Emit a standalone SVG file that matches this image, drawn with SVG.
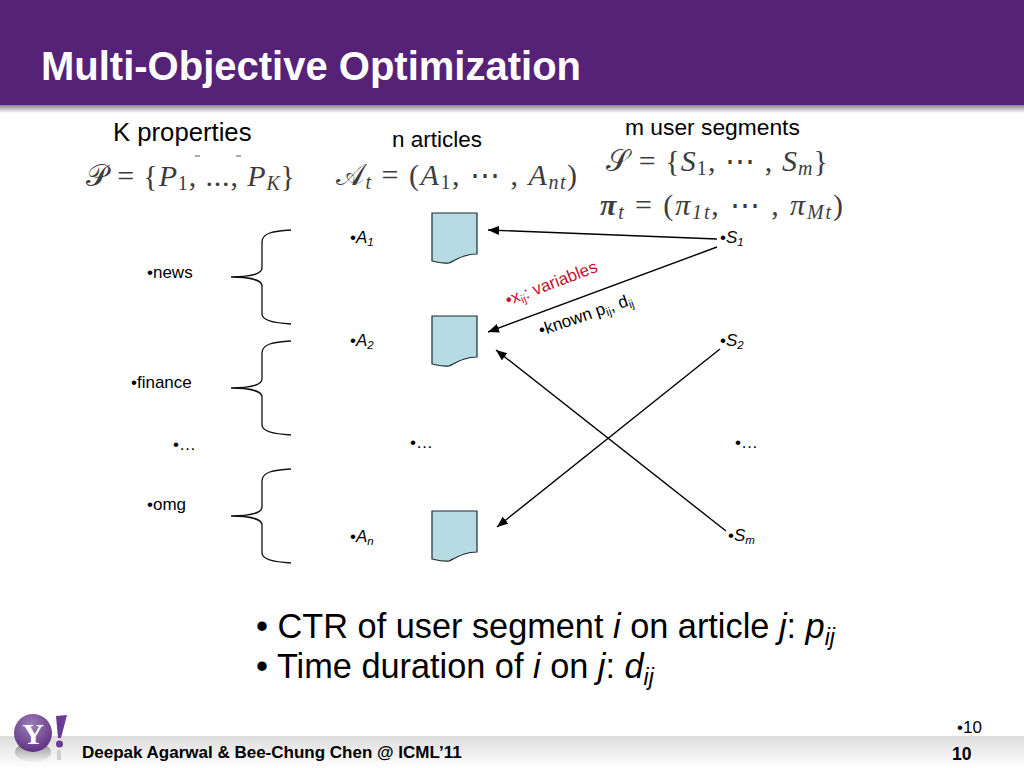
<svg xmlns="http://www.w3.org/2000/svg" width="1024" height="768" viewBox="0 0 1024 768">
<style>
text{font-family:"Liberation Sans",Arial,sans-serif;fill:#000}
.s{font-size:17px}
.sub{font-size:11.500px;font-style:italic}
.b{font-size:34.300px}
.m{font-family:"Liberation Serif","DejaVu Serif",serif;font-size:30px;fill:#3c3c3c}
.mi{font-size:20px}
.brace{fill:none;stroke:#111;stroke-width:1.3}
.doc{fill:#b7dbe2;stroke:#1c2c30;stroke-width:1.2}
.arr{stroke:#000;stroke-width:1.4;fill:none;marker-end:url(#ah)}
</style>
<defs>
<marker id="ah" markerUnits="userSpaceOnUse" markerWidth="12" markerHeight="10" refX="11" refY="4.500" orient="auto"><path d="M0 0L11 4.500L0 9Z" fill="#000"/></marker>
<linearGradient id="band" x1="0" y1="0" x2="0" y2="1"><stop offset="0" stop-color="#dcdcdc"/><stop offset="1" stop-color="#fff"/></linearGradient>
<linearGradient id="shade" x1="0" y1="0" x2="0" y2="1"><stop offset="0" stop-color="#777"/><stop offset="1" stop-color="#fff"/></linearGradient>
<linearGradient id="refl" x1="0" y1="0" x2="0" y2="1"><stop offset="0" stop-color="#8a8a8a"/><stop offset="1" stop-color="#f2f2f2"/></linearGradient>
<radialGradient id="ball" cx=".45" cy=".3" r=".75"><stop offset="0" stop-color="#9d7fb8"/><stop offset="1" stop-color="#5b2c80"/></radialGradient>
<path id="d" class="doc" d="M0 0H45V41C34 41 27 45 17 50C10 51 5 49 0 48Z"/>
<path id="br" class="brace" d="M60 0C42 1 31 3 31 12V38C31 44 18 47 0 47C18 47 31 50 31 56V84C31 90 42 93 60 94"/>
</defs>
<rect width="1024" height="768" fill="#fff"/>
<g id="header">
<rect y="104" width="1024" height="9" fill="url(#shade)"/>
<rect width="1024" height="105" fill="#552277"/>
<text x="41" y="80" font-size="40" font-weight="700" style="fill:#fff">Multi-Objective Optimization</text>
</g>
<g id="footer">
<rect y="736" width="1024" height="32" fill="url(#band)"/>
<g id="logo">
<ellipse cx="33" cy="752" rx="18" ry="10" fill="url(#refl)"/>
<rect x="57" y="750" width="4" height="10" fill="#d0d0d0"/>
<circle cx="33" cy="733" r="19" fill="url(#ball)"/>
<text x="33" y="744" font-size="30" font-weight="700" text-anchor="middle" style="font-family:'Liberation Serif',serif;fill:#fff">Y</text>
<path d="M56 716L67 715L61 738H58Z" fill="#6b3a92"/>
<circle cx="59.500" cy="744" r="3.500" fill="#6b3a92"/>
</g>
<text x="82" y="758" font-size="17" font-weight="700">Deepak Agarwal &amp; Bee-Chung Chen @ ICML’11</text>
<text x="957" y="733" font-size="17">•10</text>
<text x="952" y="760" font-size="17.500" font-weight="700">10</text>
</g>
<g id="headings">
<text x="113" y="141" font-size="25.700">K properties</text>
<text x="392" y="147" font-size="22.500">n articles</text>
<text x="625" y="135" font-size="22.800">m user segments</text>
</g>
<g id="formulas">
<path d="M195 156h5M236 156h5" stroke="#555" stroke-width="1"/>
<text class="m" x="86" y="186" textLength="209"><tspan>𝒫</tspan> = {<tspan font-style="italic">P</tspan><tspan class="mi" dy="4">1</tspan><tspan dy="-4">, ..., </tspan><tspan font-style="italic">P</tspan><tspan class="mi" dy="4" font-style="italic">K</tspan><tspan dy="-4">}</tspan></text>
<text class="m" x="336" y="185" textLength="241"><tspan>𝒜</tspan><tspan class="mi" dy="4" font-style="italic">t</tspan><tspan dy="-4"> = (</tspan><tspan font-style="italic">A</tspan><tspan class="mi" dy="4">1</tspan><tspan dy="-4">, ⋯ , </tspan><tspan font-style="italic">A</tspan><tspan class="mi" dy="4" font-style="italic">nt</tspan><tspan dy="-4">)</tspan></text>
<text class="m" x="606" y="171" textLength="222"><tspan>𝒮</tspan> = {<tspan font-style="italic">S</tspan><tspan class="mi" dy="4">1</tspan><tspan dy="-4">, ⋯ , </tspan><tspan font-style="italic">S</tspan><tspan class="mi" dy="4" font-style="italic">m</tspan><tspan dy="-4">}</tspan></text>
<text class="m" x="600" y="215" textLength="243"><tspan font-weight="700" font-style="italic">π</tspan><tspan class="mi" dy="4" font-style="italic">t</tspan><tspan dy="-4"> = (</tspan><tspan font-style="italic">π</tspan><tspan class="mi" dy="4" font-style="italic">1t</tspan><tspan dy="-4">, ⋯ , </tspan><tspan font-style="italic">π</tspan><tspan class="mi" dy="4" font-style="italic">Mt</tspan><tspan dy="-4">)</tspan></text>
</g>
<g id="prop-news"><use href="#br" x="231" y="230"/><text class="s" x="147" y="278">•news</text></g>
<g id="prop-finance"><use href="#br" x="231" y="341"/><text class="s" x="131" y="388">•finance</text></g>
<g id="prop-omg"><use href="#br" x="231" y="469"/><text class="s" x="147" y="510">•omg</text></g>
<text class="s" x="173" y="450">•…</text>
<g id="article-1"><use href="#d" x="432" y="213"/><text class="s" x="350" y="243">•<tspan font-style="italic">A</tspan><tspan class="sub" dy="3">1</tspan></text></g>
<g id="article-2"><use href="#d" x="432" y="316"/><text class="s" x="350" y="346">•<tspan font-style="italic">A</tspan><tspan class="sub" dy="3">2</tspan></text></g>
<text class="s" x="410" y="448">•…</text>
<g id="article-n"><use href="#d" x="432" y="511"/><text class="s" x="350" y="542">•<tspan font-style="italic">A</tspan><tspan class="sub" dy="3">n</tspan></text></g>
<g id="segment-1"><text class="s" x="720" y="243">•<tspan font-style="italic">S</tspan><tspan class="sub" dy="3">1</tspan></text></g>
<g id="segment-2"><text class="s" x="720" y="346">•<tspan font-style="italic">S</tspan><tspan class="sub" dy="3">2</tspan></text></g>
<text class="s" x="735" y="448">•…</text>
<g id="segment-m"><text class="s" x="728" y="541">•<tspan font-style="italic">S</tspan><tspan class="sub" dy="3">m</tspan></text></g>
<g id="connectors">
<path class="arr" d="M717 239L488 230"/>
<path class="arr" d="M717 247L488 332"/>
<path class="arr" d="M720 349L497 527"/>
<path class="arr" d="M726 531L496 350"/>
</g>
<g id="labels">
<text transform="translate(508 306) rotate(-21)" font-size="17" style="fill:#c4122f">•x<tspan font-size="11.500" dy="3">ij</tspan><tspan dy="-3">: variables</tspan></text>
<text transform="translate(541 336) rotate(-19)" font-size="17">•known p<tspan font-size="11.500" dy="3">ij</tspan><tspan dy="-3">, d</tspan><tspan font-size="11.500" dy="3">ij</tspan></text>
</g>
<g id="notes">
<text class="b" x="256" y="638">• CTR of user segment <tspan font-style="italic">i</tspan> on article <tspan font-style="italic">j</tspan>: <tspan font-style="italic">p</tspan><tspan font-size="23" dy="7" font-style="italic">ij</tspan></text>
<text class="b" x="256" y="678">• Time duration of <tspan font-style="italic">i</tspan> on <tspan font-style="italic">j</tspan>: <tspan font-style="italic">d</tspan><tspan font-size="23" dy="7" font-style="italic">ij</tspan></text>
</g>
</svg>
